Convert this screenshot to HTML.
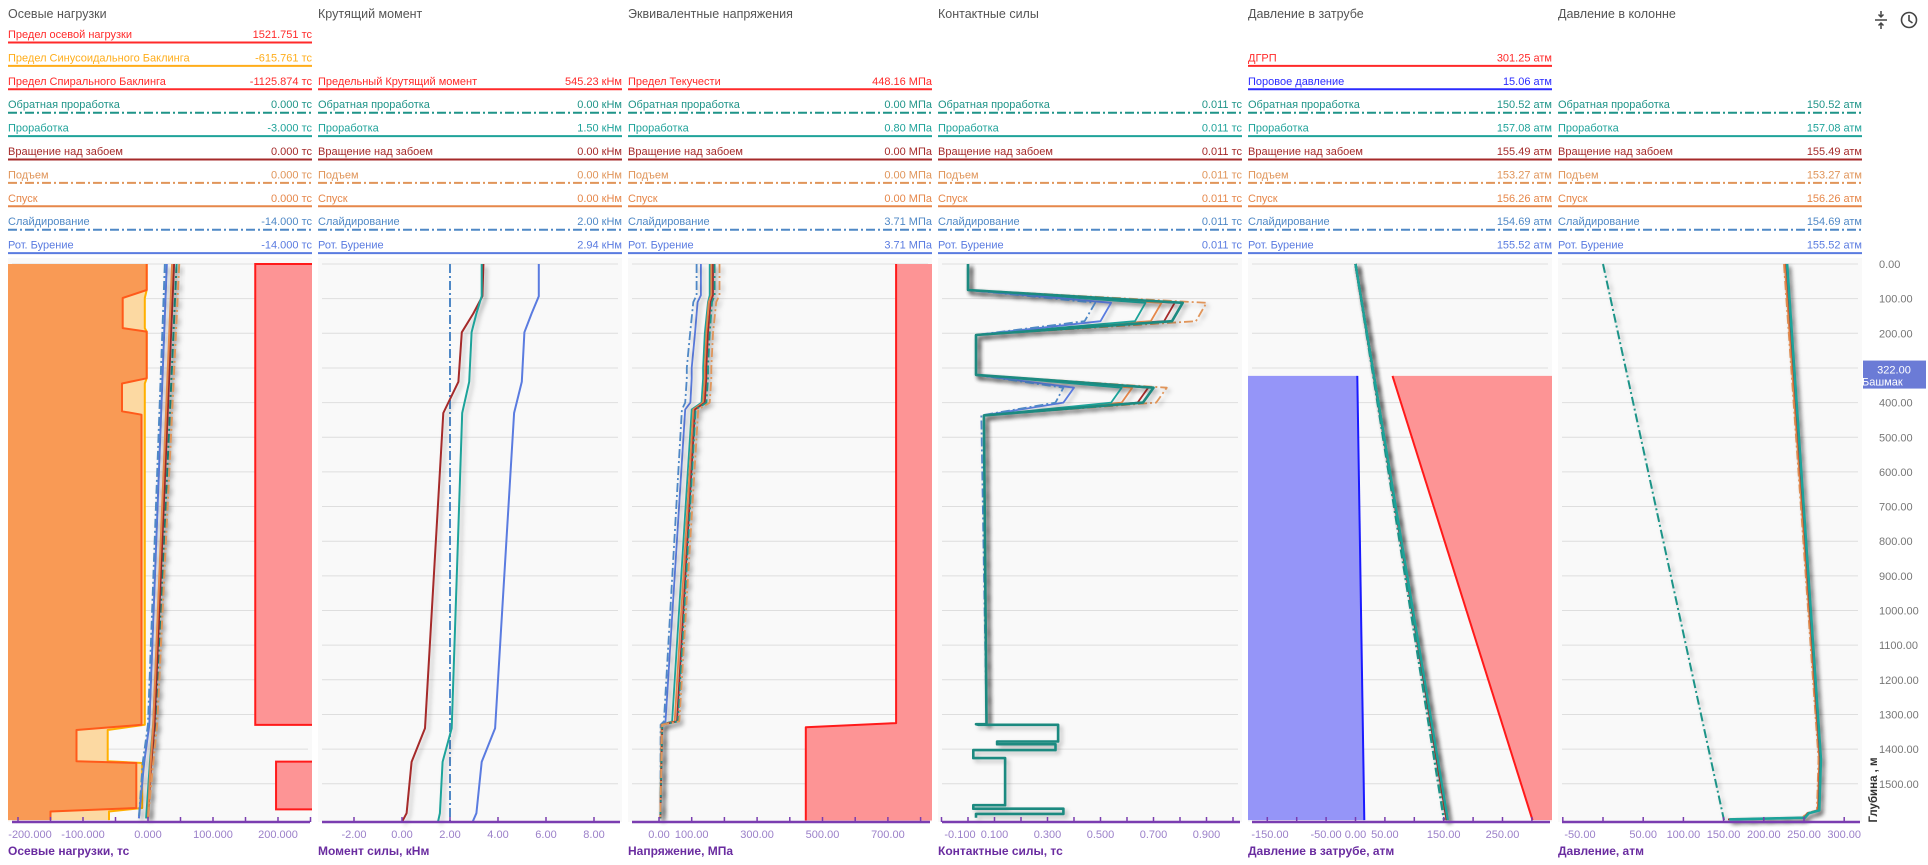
<!DOCTYPE html>
<html><head><meta charset="utf-8"><style>
html,body{margin:0;padding:0;background:#fff;}
body{width:1928px;height:860px;overflow:hidden;font-family:"Liberation Sans",sans-serif;}
svg text{font-family:"Liberation Sans",sans-serif;}
</style></head><body>
<svg id="chart" width="1928" height="860" viewBox="0 0 1928 860" xmlns="http://www.w3.org/2000/svg"></svg>
<script>
// ---------- data ----------
const panelTitles = ["Осевые нагрузки","Крутящий момент","Эквивалентные напряжения","Контактные силы","Давление в затрубе","Давление в колонне"];
const axisTitles = ["Осевые нагрузки, тс","Момент силы, кНм","Напряжение, МПа","Контактные силы, тс","Давление в затрубе, атм","Давление, атм"];
const seriesNames = ["Обратная проработка","Проработка","Вращение над забоем","Подъем","Спуск","Слайдирование","Рот. Бурение"];
const legendAxial = ["0.000 тс","-3.000 тс","0.000 тс","0.000 тс","0.000 тс","-14.000 тс","-14.000 тс"];
const legendTorque = ["0.00 кНм","1.50 кНм","0.00 кНм","0.00 кНм","0.00 кНм","2.00 кНм","2.94 кНм"];
const legendStress = ["0.00 МПа","0.80 МПа","0.00 МПа","0.00 МПа","0.00 МПа","3.71 МПа","3.71 МПа"];
const legendContact = ["0.011 тс","0.011 тс","0.011 тс","0.011 тс","0.011 тс","0.011 тс","0.011 тс"];
const legendAnnulus = ["150.52 атм","157.08 атм","155.49 атм","153.27 атм","156.26 атм","154.69 атм","155.52 атм"];
const legendColumn = ["150.52 атм","157.08 атм","155.49 атм","153.27 атм","156.26 атм","154.69 атм","155.52 атм"];

const depthTicks = [0,100,200,300,400,500,600,700,800,900,1000,1100,1200,1300,1400,1500];
const depthLabels = ["0.00","100.00","200.00","","400.00","500.00","600.00","700.00","800.00","900.00","1000.00","1100.00","1200.00","1300.00","1400.00","1500.00"];
const shoeDepth = 322;

// panel 1 axial
const axTicks = [-200,-150,-100,-50,0,50,100,150,200,250];
const axTickLabels = ["-200.000","","-100.000","","0.000","","100.000","","200.000",""];
const axDepth = [0,1330,1440,1600];
const axBack = [44,12,6,0];
const axReam = [40,8,3,-3];
const axRotBot = [40,10,5,0];
const axUp = [48,14,8,0];
const axDown = [37,8,4,0];
const axSlide = [26,0,-8,-14];
const axRot = [29,2,-6,-14];
const bkDepth = [0,75,98,185,195,330,345,425,435,1330,1345,1435,1440,1570,1580,1605];
const bkHel = [-2,-2,-39,-39,-2,-2,-40,-40,-10,-10,-110,-110,-18,-18,-150,-150];
const bkSin = [-2,-2,-5,-5,-2,-2,-5,-5,-5,-5,-62,-62,-9,-9,-60,-60];
const axLimTop = [0,1436];
const axLimBot = [1330,1574];
const axLimVal = [165,197];

// panel 2 torque
const tqTicks = [-2,0,2,4,6,8];
const tqTickLabels = ["-2.00","0.00","2.00","4.00","6.00","8.00"];
const tqDepth = [0,93,143,197,340,430,1340,1437,1585,1610];
const tqRot = [5.7,5.7,5.4,5.1,4.99,4.67,3.88,3.32,3.1,2.94];
const tqRotBot = [3.39,3.35,2.97,2.49,2.35,1.72,0.96,0.40,0.19,0.0];
const tqReam = [3.32,3.32,3.1,2.9,2.8,2.51,2.07,1.69,1.58,1.5];
const tqSlide = [2,2,2,2,2,2,2,2,2,2];
const tqBack = [0,0,0,0,0,0,0,0,0,0];
const tqUp = [0,0,0,0,0,0,0,0,0,0];
const tqDown = [0,0,0,0,0,0,0,0,0,0];

// panel 3 stress
const stTicks = [0,100,200,300,400,500,600,700,800];
const stTickLabels = ["0.00","100.00","","300.00","","500.00","","700.00",""];
const stDepth = [0,90,110,200,300,330,400,420,1320,1330,1600];
const stRot = [128,128,118,110,100,100,96,80,20,8,5];
const stSlide = [115,115,105,95,85,85,80,70,15,5,5];
const stReam = [155,155,150,140,135,135,130,100,40,8,4];
const stRotBot = [165,165,158,150,145,145,140,110,55,10,4];
const stDown = [160,160,152,145,140,140,135,105,48,8,4];
const stUp = [185,185,175,165,160,160,155,120,62,10,4];
const stBack = [170,170,162,155,150,150,145,112,58,10,4];
const stLimDepth = [0,1325,1337,1606];
const stLimVal = [725,725,449,449];

// panel 4 contact
const ctTicks = [-0.1,0,0.1,0.2,0.3,0.4,0.5,0.6,0.7,0.8,0.9,1.0];
const ctTickLabels = ["-0.100","","0.100","","0.300","","0.500","","0.700","","0.900",""];
const ctDepth = [0,75,112,165,205,320,357,400,437,1328];
const ctRot = [0,0,0.54,0.50,0.03,0.03,0.40,0.36,0.06,0.07];
const ctSlide = [0,0,0.48,0.44,0.03,0.03,0.36,0.33,0.05,0.07];
const ctReam = [0,0,0.67,0.63,0.03,0.03,0.58,0.54,0.06,0.07];
const ctDown = [0,0,0.73,0.69,0.03,0.03,0.62,0.58,0.06,0.07];
const ctRotBot = [0,0,0.78,0.74,0.03,0.03,0.68,0.64,0.06,0.07];
const ctUp = [0,0,0.90,0.86,0.03,0.03,0.75,0.71,0.06,0.07];
const ctBack = [0,0,0.81,0.77,0.03,0.03,0.70,0.66,0.06,0.07];
const ctBotDepth = [1328,1330,1330,1378,1378,1386,1386,1403,1403,1426,1426,1562,1562,1572,1572,1587,1587,1598];
const ctBotVal = [0.03,0.04,0.34,0.34,0.11,0.11,0.33,0.33,0.02,0.02,0.14,0.14,0.02,0.02,0.36,0.36,0.03,0.03];

// panel 5 annulus
const anTicks = [-150,-100,-50,0,50,100,150,200,250,300];
const anTickLabels = ["-150.00","","-50.00","0.00","50.00","","150.00","","250.00",""];
const anDepth = [0,1605];
const anBack = [0,150.5];
const anReam = [0,157];
const anRotBot = [0,155.5];
const anUp = [0,153.3];
const anDown = [0,156.3];
const anSlide = [0,154.7];
const anRot = [0,155.5];
const poreDepth = [323,1605];
const poreVal = [3,15];
const fracDepth = [323,1605];
const fracVal = [63,301];

// panel 6 column
const clTicks = [-50,0,50,100,150,200,250,300];
const clTickLabels = ["-50.00","","50.00","100.00","150.00","200.00","250.00","300.00"];
const clDepth = [0,1428,1577,1585,1598,1603];
const clReam = [229,271,269,256,251,157];
const clRotBot = [228,270,268,255,250,155.5];
const clUp = [225,268,266,253,248,153.3];
const clDown = [226,269,267,254,249,156.3];
const clSlide = [226,269,267,254,249,154.7];
const clRot = [227,270,268,255,250,155.5];
const clBackDepth = [0,1605];
const clBack = [0,150.5];

// ---------- layout ----------
const NS = "http://www.w3.org/2000/svg";
const svg = document.getElementById('chart');
const panelX = [8,318,628,938,1248,1558];
const PW = 304;
const Y0 = 264, YK = 0.3465, AXY = 822;
const yD = d => Y0 + d*YK;
const scales = [
  {z:148, k:0.65},
  {z:402, k:24},
  {z:659, k:0.327},
  {z:968, k:265},
  {z:1355.5, k:0.588},
  {z:1603, k:0.804}
];
const xS = (i,v) => scales[i].z + scales[i].k*v;
const C = {
  back:'#1f9488', ream:'#1fa39a', rotbot:'#a52a2a', up:'#e0955a', down:'#e6874a', slide:'#4f88c6', rot:'#5a7be0'
};
const DASH = '9 3 2 3';
const styles = [
  {c:C.back,d:DASH},{c:C.ream,d:null},{c:C.rotbot,d:null},{c:C.up,d:DASH},{c:C.down,d:null},{c:C.slide,d:DASH},{c:C.rot,d:null}
];

function mk(tag, attrs, parent){
  const el = document.createElementNS(NS, tag);
  for (const k in attrs) el.setAttribute(k, attrs[k]);
  (parent||svg).appendChild(el);
  return el;
}
function txt(x,y,s,size,fill,anchor,parent){
  const t = mk('text',{x:x,y:y,'font-size':size,fill:fill,'text-anchor':anchor||'start'},parent);
  t.textContent = s;
  return t;
}
function pathFrom(i, vals, depths){
  let d = '';
  for (let j=0;j<vals.length;j++){
    d += (j?'L':'M') + xS(i,vals[j]).toFixed(1) + ' ' + yD(depths[j]).toFixed(1) + ' ';
  }
  return d;
}

const defs = mk('defs',{});
const flt = mk('filter',{id:'sh',x:'-20%',y:'-5%',width:'140%',height:'110%'},defs);
mk('feDropShadow',{dx:'3',dy:'3',stdDeviation:'2','flood-color':'#000','flood-opacity':'0.25'},flt);

// ---------- panels ----------
const legendVals = [legendAxial,legendTorque,legendStress,legendContact,legendAnnulus,legendColumn];
const tickVals = [axTicks,tqTicks,stTicks,ctTicks,anTicks,clTicks];
const tickLabs = [axTickLabels,tqTickLabels,stTickLabels,ctTickLabels,anTickLabels,clTickLabels];
const rowLineY = k => 42 + 23.4*k;

for (let i=0;i<6;i++){
  const P = panelX[i];
  const g = mk('g',{});
  
  
  const title = txt(P, 18, panelTitles[i], 12.5, '#555', 'start', g);
  
  

  const bg = mk('rect',{x:P,y:Y0-6,width:PW,height:AXY-Y0+6,fill:'#f9f9f9'},g);
  
  
  for (const d of depthTicks){
    const gl = mk('line',{x1:P+4,x2:P+PW-4,y1:yD(d),y2:yD(d),stroke:'#dedede','stroke-width':1},g);
    
    
  }
}

function legendRow(i,k,name,val,color,dash){
  const P = panelX[i];
  const y = rowLineY(k);
  const g = mk('g',{});
  
  
  txt(P, y-4, name, 11, color, 'start', g);
  txt(P+PW, y-4, val, 11, color, 'end', g);
  const a = {x1:P,x2:P+PW,y1:y+0.5,y2:y+0.5,stroke:color,'stroke-width':2};
  if (dash) a['stroke-dasharray'] = DASH;
  mk('line',a,g);
}
legendRow(0,0,'Предел  осевой нагрузки','1521.751 тс','#ff2a2a');
legendRow(0,1,'Предел Синусоидального Баклинга','-615.761 тс','#ffad1a');
legendRow(0,2,'Предел Спирального Баклинга','-1125.874 тс','#ff2a2a');
legendRow(1,2,'Предельный Крутящий момент','545.23 кНм','#ff2a2a');
legendRow(2,2,'Предел Текучести','448.16 МПа','#ff2a2a');
legendRow(4,1,'ДГРП','301.25 атм','#ff2a2a');
legendRow(4,2,'Поровое давление','15.06 атм','#2b2bff');
for (let i=0;i<6;i++){
  for (let s=0;s<7;s++){
    legendRow(i,3+s,seriesNames[s],legendVals[i][s],styles[s].c,styles[s].d);
  }
}

function areaLeft(i, vals, depths, fill, name){
  const L = panelX[i];
  let d = 'M' + L + ' ' + yD(depths[0]) + ' ' + pathFrom(i, vals, depths).replace(/^M/,'L') + 'L' + L + ' ' + yD(depths[depths.length-1]) + ' Z';
  const p = mk('path',{d:d,fill:fill,stroke:'none'});
  
  
  return p;
}
function areaRight(i, vals, depths, fill, name){
  const R = panelX[i]+PW;
  let d = 'M' + R + ' ' + yD(depths[0]) + ' ' + pathFrom(i, vals, depths).replace(/^M/,'L') + 'L' + R + ' ' + yD(depths[depths.length-1]) + ' Z';
  const p = mk('path',{d:d,fill:fill,stroke:'none'});
  
  
  return p;
}
function line(i, vals, depths, color, dash, w, name, shadow){
  const a = {d:pathFrom(i, vals, depths),fill:'none',stroke:color,'stroke-width':w||1.8,'stroke-linejoin':'round'};
  if (dash) a['stroke-dasharray'] = dash;
  if (shadow) a.filter = 'url(#sh)';
  const p = mk('path',a);
  
  
  return p;
}

// panel 1
areaLeft(0, bkSin, bkDepth, '#fcd9a2', 'sinusoidal-buckling-area');
areaLeft(0, bkHel, bkDepth, '#f99a55', 'helical-buckling-area');
line(0, bkSin, bkDepth, '#ffb000', null, 2, 'sinusoidal-buckling-line');
line(0, bkHel, bkDepth, '#ff5a1a', null, 2, 'helical-buckling-line');
for (let j=0;j<axLimVal.length;j++){
  const dd = [axLimTop[j], axLimBot[j]];
  const vv = [axLimVal[j], axLimVal[j]];
  areaRight(0, vv, dd, '#fd9495', 'axial-limit-area');
  const R = panelX[0]+PW;
  const p = mk('path',{d:'M'+R+' '+yD(dd[0])+' L'+xS(0,vv[0])+' '+yD(dd[0])+' L'+xS(0,vv[1])+' '+yD(dd[1])+' L'+R+' '+yD(dd[1]),fill:'none',stroke:'#ff1a1a','stroke-width':2});
  
  
}
const axSeries = [axBack,axReam,axRotBot,axUp,axDown,axSlide,axRot];
[6,5,1,0,2,4,3].forEach(s => line(0, axSeries[s], axDepth, styles[s].c, styles[s].d, 2, 'axial-'+s, true));

// panel 2
const tqSeries = [tqBack,tqReam,tqRotBot,tqUp,tqDown,tqSlide,tqRot];
[0,4,3,5,2,1,6].forEach(s => line(1, tqSeries[s], tqDepth, styles[s].c, styles[s].d, 2, 'torque-'+s, s!==5 && s!==6));

// panel 3
areaRight(2, stLimVal, stLimDepth, '#fd9495', 'yield-limit-area');
line(2, stLimVal, stLimDepth, '#ff1a1a', null, 2, 'yield-limit-line');
const stSeries = [stBack,stReam,stRotBot,stUp,stDown,stSlide,stRot];
[6,5,1,4,2,0,3].forEach(s => line(2, stSeries[s], stDepth, styles[s].c, styles[s].d, 1.8, 'stress-'+s, true));

// panel 4
const ctSeries = [ctBack,ctReam,ctRotBot,ctUp,ctDown,ctSlide,ctRot];
[3,2,4,1,6,5].forEach(s => line(3, ctSeries[s], ctDepth, styles[s].c, styles[s].d, 1.8, 'contact-'+s, true));
line(3, ctBack.concat(ctBotVal), ctDepth.concat(ctBotDepth), '#1a8a80', null, 2.6, 'contact-main', true);

// panel 5
areaLeft(4, poreVal, poreDepth, '#9595f8', 'pore-pressure-area');
line(4, poreVal, poreDepth, '#1a1aff', null, 2, 'pore-pressure-line');
areaRight(4, fracVal, fracDepth, '#fd9495', 'frac-pressure-area');
line(4, fracVal, fracDepth, '#ff1a1a', null, 2, 'frac-pressure-line');
const anSeries = [anBack,anReam,anRotBot,anUp,anDown,anSlide,anRot];
[6,5,3,4,2,0,1].forEach(s => line(4, anSeries[s], anDepth, styles[s].c, styles[s].d, 2.4, 'annulus-'+s, true));

// panel 6
line(5, clBack, clBackDepth, C.back, DASH, 2, 'column-0', true);
const clSeries = [null,clReam,clRotBot,clUp,clDown,clSlide,clRot];
[6,5,3,4,2,1].forEach(s => line(5, clSeries[s], clDepth, styles[s].c, styles[s].d, s===1?2.6:1.8, 'column-'+s, true));

// axes
for (let i=0;i<6;i++){
  const P = panelX[i];
  const ax = mk('line',{x1:P+4,x2:P+PW-2,y1:AXY,y2:AXY,stroke:'#7a3db0','stroke-width':2.5});
  
  
  tickVals[i].forEach((v,j) => {
    const x = xS(i,v);
    if (x < P || x > P+PW) return;
    const t = mk('line',{x1:x,x2:x,y1:AXY-5,y2:AXY,stroke:'#7a3db0','stroke-width':1.5});
    
    
    if (tickLabs[i][j]){
      const lx = Math.max(x, P + 22);
      const l = txt(lx, 838, tickLabs[i][j], 11, '#9b80c9', 'middle');
      
      
    }
  });
  const at = txt(P, 855, axisTitles[i], 12, '#6a2ca0', 'start');
  at.setAttribute('font-weight', 'bold');
  
  
}

// depth axis
depthTicks.forEach((d,j) => {
  if (!depthLabels[j]) return;
  const l = txt(1879, yD(d)+4, depthLabels[j], 11, '#777', 'start');
  
  
});
const shoe = mk('rect',{x:1863,y:yD(shoeDepth)-15,width:63,height:28,fill:'#6b7bd6'});


const s1 = txt(1894, yD(shoeDepth)-2, '322.00', 11, '#fff', 'middle');


const s2 = txt(1862, yD(shoeDepth)+10, 'Башмак', 11, '#fff', 'start');


const yt = txt(0, 0, 'Глубина , м', 11.5, '#333', 'middle');
yt.setAttribute('transform', 'translate(1877,790) rotate(-90)');
yt.setAttribute('font-weight', 'bold');



// icons
const ic1 = mk('g',{stroke:'#444','stroke-width':1.5,fill:'none'});


mk('line',{x1:1875,x2:1887,y1:20,y2:20},ic1);
mk('path',{d:'M1881 11 L1881 17 M1878.5 14.5 L1881 17 L1883.5 14.5 M1881 29 L1881 23 M1878.5 25.5 L1881 23 L1883.5 25.5'},ic1);
const ic2 = mk('g',{stroke:'#444','stroke-width':1.6,fill:'none'});


mk('circle',{cx:1909,cy:20,r:7.5},ic2);
mk('path',{d:'M1909 15 L1909 20.5 L1912.5 23'},ic2);
</script>
</body></html>
